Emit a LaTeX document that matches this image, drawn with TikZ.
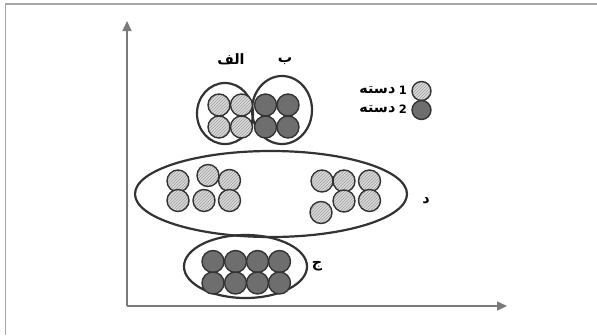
\documentclass[tikz,border=0pt]{standalone}
\usepackage{fontspec}
\newfontfamily\arabicfont[Script=Arabic,Scale=1.3]{DejaVu Sans}
\newfontfamily\digitfont{DejaVu Sans}
\TeXXeTstate=1
\usetikzlibrary{patterns,arrows.meta}
\definecolor{darkfill}{HTML}{6E6E6E}
\definecolor{lightfill}{HTML}{DADADA}
\definecolor{rimcol}{HTML}{333333}
\definecolor{axiscol}{HTML}{7A7A7A}
\begin{document}
\begin{tikzpicture}[x=1pt,y=-1pt,
  hatchball/.style={circle,minimum size=22pt,inner sep=0pt,draw=rimcol,line width=1.4pt,
     preaction={fill=lightfill},pattern=north east lines,pattern color=gray!75},
  darkball/.style={circle,minimum size=22pt,inner sep=0pt,draw=rimcol,line width=1.4pt,fill=darkfill},
  rim/.style={draw=rimcol,line width=2.2pt},
  axisline/.style={draw=axiscol,line width=1.6pt,-{Triangle[length=10pt,width=9pt]}},
  lbl/.style={font=\arabicfont\bfseries\fontsize{11}{14}\selectfont,inner sep=0pt},
  num/.style={font=\digitfont\bfseries\fontsize{11.5}{14}\selectfont,inner sep=0pt}]
\useasboundingbox (0,0) rectangle (597,335);
\draw[gray!70,line width=1.5pt] (5.5,335) -- (5.5,3.8) -- (597,3.8);
% axes
\coordinate (O) at (127,306);
\coordinate (ytip) at (127,21);
\coordinate (xtip) at (507,306);
\draw[axisline] (O) -- (ytip);
\draw[axisline] (O) -- (xtip);
% group ellipses
\draw[rim] (225,113.5) ellipse [x radius=28,y radius=30.5];
\draw[rim] (282,110) ellipse [x radius=30,y radius=34];
\draw[rim] (271,194) ellipse [x radius=136,y radius=43];
\draw[rim] (245.5,266.5) ellipse [x radius=61.5,y radius=31.5];
% group alef
\node[hatchball] (a1) at (219,105) {};
\node[hatchball] (a2) at (241.5,105) {};
\node[hatchball] (a3) at (219,127) {};
\node[hatchball] (a4) at (241.5,127) {};
% group be
\node[darkball] (b1) at (265.5,105) {};
\node[darkball] (b2) at (288,105) {};
\node[darkball] (b3) at (265.5,127) {};
\node[darkball] (b4) at (288,127) {};
% group dal left
\node[hatchball] (d1) at (178,181) {};
\node[hatchball] (d2) at (208,175.5) {};
\node[hatchball] (d3) at (229.5,180.5) {};
\node[hatchball] (d4) at (178,200.5) {};
\node[hatchball] (d5) at (204,200.5) {};
\node[hatchball] (d6) at (229.5,200.5) {};
% group dal right
\node[hatchball] (d7) at (322,181) {};
\node[hatchball] (d8) at (344,181) {};
\node[hatchball] (d9) at (369.5,181) {};
\node[hatchball] (d10) at (344,201) {};
\node[hatchball] (d11) at (369.5,200.5) {};
\node[hatchball] (d12) at (321,212.5) {};
% group jim
\node[darkball] (c1) at (213,261.5) {};
\node[darkball] (c2) at (235.5,261.5) {};
\node[darkball] (c3) at (257.5,261.5) {};
\node[darkball] (c4) at (279.5,261.5) {};
\node[darkball] (c5) at (213,283) {};
\node[darkball] (c6) at (235.5,283) {};
\node[darkball] (c7) at (257.5,283) {};
\node[darkball] (c8) at (279.5,283) {};
% legend
\node[hatchball,minimum size=19pt] (k1) at (421.5,91) {};
\node[darkball,minimum size=19pt] (k2) at (421.5,110) {};
\node[num,anchor=east] (n1) at (407,90) {1};
\node[num,anchor=east] (n2) at (407,109) {2};
\node[lbl,anchor=east] (t1) at ([xshift=-3pt]n1.west) {\beginR دسته\endR};
\node[lbl,anchor=east] (t2) at ([xshift=-3pt]n2.west) {\beginR دسته\endR};
% labels
\node[lbl] (la) at (231,59) {\beginR الف\endR};
\node[lbl] (lb) at (285,61) {\beginR ب\endR};
\node[lbl] (ld) at (426,201) {\beginR د\endR};
\node[lbl] (lc) at (317,266) {\beginR ج\endR};
\end{tikzpicture}
\end{document}
